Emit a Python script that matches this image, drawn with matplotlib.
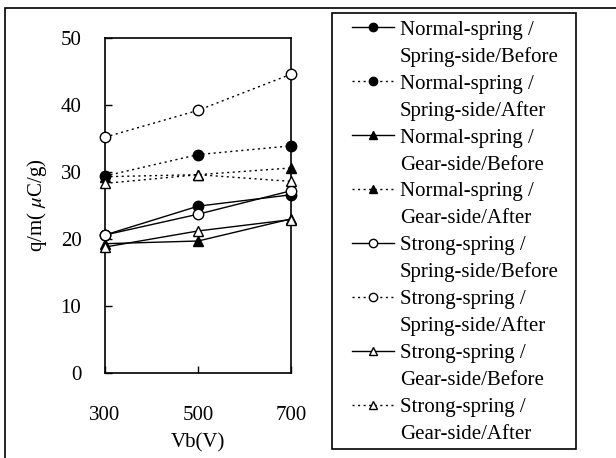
import numpy as np
import matplotlib
matplotlib.use("Agg")
import matplotlib.pyplot as plt
from matplotlib.patches import Rectangle
from matplotlib.lines import Line2D

plt.rcParams['font.family'] = ['Liberation Serif', 'DejaVu Serif']
plt.rcParams['mathtext.fontset'] = 'stix'

# Datos
vb = [300, 500, 700]

labels = [
    "Normal-spring /\nSpring-side/Before",
    "Normal-spring /\nSpring-side/After",
    "Normal-spring /\nGear-side/Before",
    "Normal-spring /\nGear-side/After",
    "Strong-spring /\nSpring-side/Before",
    "Strong-spring /\nSpring-side/After",
    "Strong-spring /\nGear-side/Before",
    "Strong-spring /\nGear-side/After",
]

normal_spring_before = [20.6, 24.9, 26.6]
normal_spring_after = [29.4, 32.6, 33.9]
normal_gear_before = [19.3, 19.7, 23.0]
normal_gear_after = [29.3, 29.6, 30.6]
strong_spring_before = [20.6, 23.7, 27.2]
strong_spring_after = [35.2, 39.2, 44.6]
strong_gear_before = [18.8, 21.2, 22.9]
strong_gear_after = [28.3, 29.6, 28.6]

series = [normal_spring_before, normal_spring_after, normal_gear_before, normal_gear_after,
          strong_spring_before, strong_spring_after, strong_gear_before, strong_gear_after]
markers = ['o', 'o', '^', '^', 'o', 'o', '^', '^']
filled = [True, True, True, True, False, False, False, False]
dotted = [False, True, False, True, False, True, False, True]

fig = plt.figure(figsize=(6.16, 4.58), dpi=100)
ax = fig.add_axes([0.1705, 0.1856, 0.302, 0.7314])

lines = []
for i in range(len(series)):
    ls = (0, (1.5, 2.5)) if dotted[i] else '-'
    ln, = ax.plot(vb, series[i], linestyle=ls, color='black', linewidth=1,
                  marker=markers[i], markersize=7.5,
                  markerfacecolor='black' if filled[i] else 'white',
                  markeredgecolor='black', markeredgewidth=1,
                  clip_on=False, zorder=3 if filled[i] else 4)
    lines.append(ln)

ax.set_xlim(300, 700)
ax.set_ylim(0, 50)
ax.set_xticks([300, 500, 700])
ax.set_yticks(range(0, 51, 10))
ax.tick_params(direction='in', length=5, width=1, labelsize=15)
ax.tick_params(axis='x', pad=24)
ax.tick_params(axis='y', pad=17)
for s in ax.spines.values():
    s.set_linewidth(1.2)

ax.set_xlabel("Vb(V)", fontsize=15, labelpad=6)
ax.set_ylabel("q/m( $\\mu$C/g)", fontsize=15, labelpad=8)

# leyenda: cada etiqueta en dos filas, el simbolo junto a la primera
hs = []
labs = []
for ln, lab in zip(lines, labels):
    first, second = lab.split("\n")
    hs += [ln, Line2D([], [], linestyle='none')]
    labs += [first, second]

leg = fig.legend(hs, labs, loc='upper left', bbox_to_anchor=(352 / 616, 1 - 20 / 458),
                 fontsize=15, frameon=False, handlelength=2.0, handletextpad=0.3,
                 labelspacing=0.35, markerscale=0.8, borderpad=0, borderaxespad=0)

fig.patches.append(Rectangle((332 / 616, 1 - 449 / 458), 244 / 616, 436 / 458,
                             transform=fig.transFigure, fill=False,
                             edgecolor='black', linewidth=1.2))

fig.patches.append(Rectangle((5 / 616, -0.1), 1.2, 0.1 + 1 - 8 / 458,
                             transform=fig.transFigure, fill=False,
                             edgecolor='black', linewidth=1.2))

fig.savefig("out.png", dpi=100)
